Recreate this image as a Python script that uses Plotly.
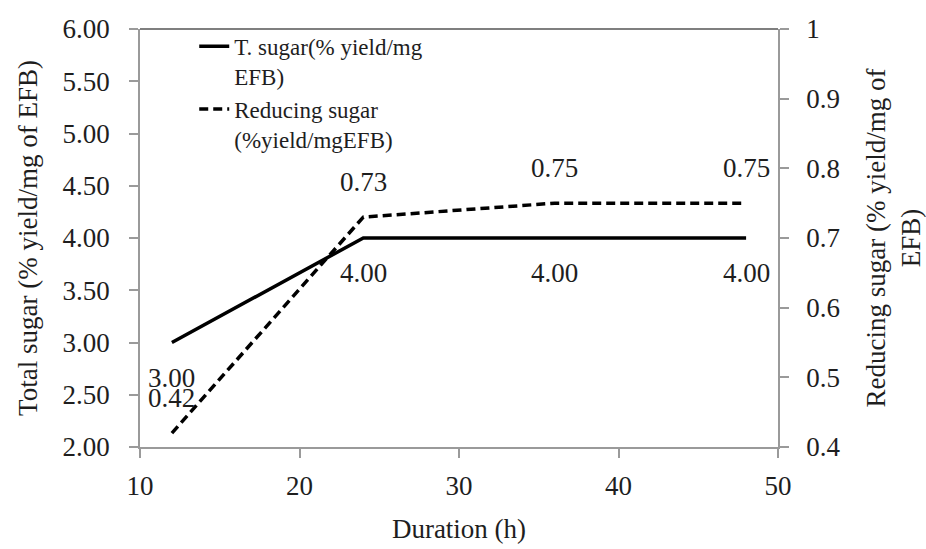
import plotly.graph_objects as go

duration = [12, 24, 36, 48]
total_sugar = [3.00, 4.00, 4.00, 4.00]
reducing_sugar = [0.42, 0.73, 0.75, 0.75]

name_total = "T. sugar(% yield/mg<br>EFB)"
name_reducing = "Reducing sugar<br>(%yield/mgEFB)"

FONT = "Liberation Serif, Times New Roman, serif"
FS = 27
TXT = "#1e1e1e"
AXIS_COLOR = "#9a9a9a"

fig = go.Figure()
fig.add_trace(go.Scatter(
    x=duration, y=total_sugar, mode="lines", name=name_total,
    line=dict(color="black", width=3.5), yaxis="y"))
fig.add_trace(go.Scatter(
    x=duration, y=reducing_sugar, mode="lines", name=name_reducing,
    line=dict(color="black", width=3.5, dash="9px,5px"), yaxis="y2"))

annotations = []
for xv, yv in zip(duration, total_sugar):
    annotations.append(dict(x=xv, y=yv, xref="x", yref="y", text=f"{yv:.2f}",
                            showarrow=False, yshift=-35,
                            font=dict(family=FONT, size=FS, color=TXT)))
for xv, yv in zip(duration, reducing_sugar):
    annotations.append(dict(x=xv, y=yv, xref="x", yref="y2", text=f"{yv:.2f}",
                            showarrow=False, yshift=35,
                            font=dict(family=FONT, size=FS, color=TXT)))

fig.update_layout(
    width=926, height=549,
    margin=dict(l=140, r=148, t=29, b=102),
    paper_bgcolor="white", plot_bgcolor="white",
    font=dict(family=FONT, size=FS, color=TXT),
    showlegend=True,
    legend=dict(x=0.085, y=1.01, xanchor="left", yanchor="top",
                bgcolor="rgba(0,0,0,0)", valign="top",
                font=dict(family=FONT, size=23, color=TXT),
                tracegroupgap=0),
    xaxis=dict(range=[10, 50], dtick=10, tick0=10, showgrid=False, zeroline=False,
               showline=True, linecolor=AXIS_COLOR, linewidth=1.5, automargin=False,
               ticks="outside", ticklen=9, tickcolor=AXIS_COLOR, tickwidth=1.5,
               ticklabelstandoff=5,
               tickfont=dict(family=FONT, size=FS, color=TXT),
               title=dict(text="Duration (h)", standoff=19,
                          font=dict(family=FONT, size=FS, color=TXT))),
    yaxis=dict(range=[2, 6], dtick=0.5, tick0=2, tickformat=".2f", showgrid=False,
               zeroline=False, showline=True, linecolor=AXIS_COLOR, linewidth=1.5,
               automargin=False,
               ticks="outside", ticklen=9, tickcolor=AXIS_COLOR, tickwidth=1.5,
               ticklabelstandoff=14,
               tickfont=dict(family=FONT, size=FS, color=TXT),
               title=dict(text="Total sugar (% yield/mg of EFB)", standoff=17,
                          font=dict(family=FONT, size=FS, color=TXT))),
    yaxis2=dict(range=[0.4, 1.0], dtick=0.1, tick0=0.4, overlaying="y", side="right",
                showgrid=False, zeroline=False, showline=True, linecolor=AXIS_COLOR,
                linewidth=1.5, automargin=False, ticks="outside", ticklen=9,
                tickcolor=AXIS_COLOR, tickwidth=1.5, ticklabelstandoff=12,
                tickfont=dict(family=FONT, size=FS, color=TXT),
                title=dict(text="Reducing sugar (% yield/mg of<br>EFB)", standoff=35,
                           font=dict(family=FONT, size=FS, color=TXT))),
    annotations=annotations,
    shapes=[dict(type="line", xref="paper", yref="paper", x0=0, x1=1, y0=1, y1=1,
                 line=dict(color="#555", width=1.5))],
)

fig.write_html("out.html")
